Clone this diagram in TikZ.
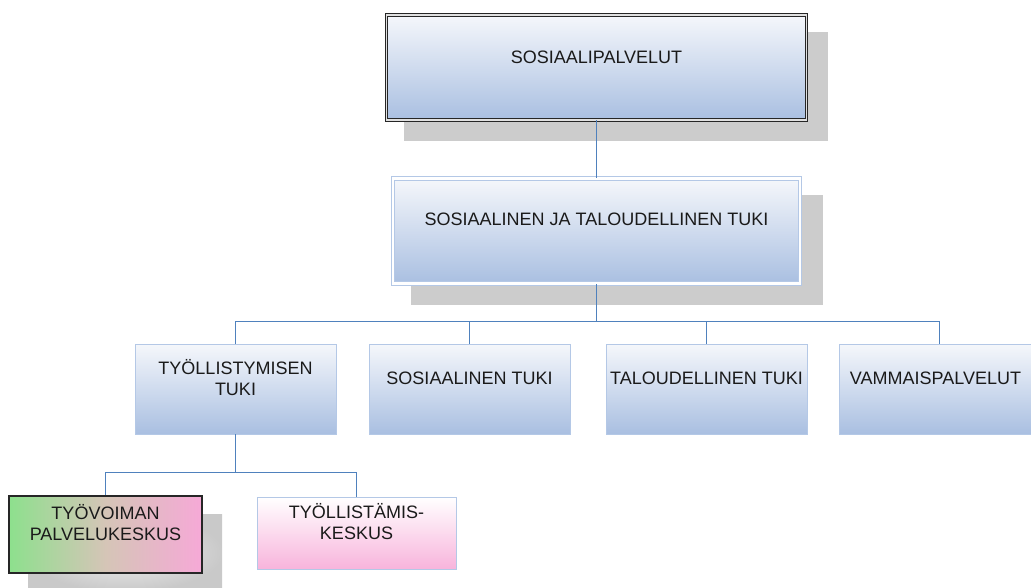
\documentclass[tikz,border=0pt]{standalone}
\usepackage{fontspec}
\setmainfont{Liberation Sans}
\definecolor{linkblue}{HTML}{4F81BD}
\definecolor{boxline}{HTML}{B4C8E6}
\definecolor{boxtop}{HTML}{F5F7FB}
\definecolor{boxbot}{HTML}{A9BFE1}
\definecolor{shadowgray}{HTML}{CCCCCC}
\definecolor{textgray}{HTML}{1A1A1A}
\definecolor{green1}{HTML}{8DE08D}
\definecolor{tan1}{HTML}{D5C5B7}
\definecolor{pink1}{HTML}{F6A9D7}
\definecolor{pink2}{HTML}{F8B4DC}

\begin{document}
\begin{tikzpicture}[x=1pt, y=-1pt,
    box/.style = {draw=boxline, line width=0.8pt, top color=boxtop, bottom color=boxbot,
                  minimum width=201pt, minimum height=90pt, inner sep=0pt},
    shadow/.style = {fill=shadowgray, draw=none, inner sep=0pt},
    txt/.style = {align=center, inner sep=0pt, text=textgray, font=\fontsize{18}{21}\selectfont},
    link/.style = {draw=linkblue, line width=0.9pt}]

    \fill[white] (0,0) rectangle (1031,587);
    \useasboundingbox (0,0) rectangle (1031,587);

    % Varjot
    \node[shadow, minimum width=424pt, minimum height=109pt] (s1) at (615.5,86.5) {};

    \node[shadow, minimum width=412pt, minimum height=110pt] (s2) at (616.5,250) {};

    \node[shadow, inner color=gray!12, outer color=gray!42, minimum width=194pt, minimum height=77pt] (s7) at (125,552.5) {};

    % Laatikot
    \node[box, draw=black!85, line width=0.9pt, double=white!88!black, double distance=1.8pt,
          minimum width=420pt, minimum height=105pt] (1) at (596.5,67.5) {};

    \node[box, line width=1pt, double=white, double distance=2.5pt,
          minimum width=407pt, minimum height=105pt] (2) at (596.5,231) {};

    \node[box] (3) at (235.5,389) {};

    \node[box] (4) at (469.5,389) {};

    \node[box] (5) at (706.5,389) {};

    \node[box] (6) at (939.5,389) {};

    \node[box, draw=black!85, line width=1.2pt, left color=green1, right color=pink1, middle color=tan1,
          minimum width=193pt, minimum height=77pt] (7) at (105.5,534.5) {};

    \node[box, top color=white, bottom color=pink2,
          minimum width=199pt, minimum height=72pt] (8) at (356.5,533) {};

    % Tekstit
    \node[txt] (t1) at ([yshift=10.5pt]1.center) {SOSIAALIPALVELUT};
    \node[txt] (t2) at ([yshift=11.5pt]2.center) {SOSIAALINEN JA TALOUDELLINEN TUKI};
    \node[txt] (t3) at ([yshift=11pt]3.center) {TYÖLLISTYMISEN\\TUKI};
    \node[txt] (t4) at ([yshift=11pt]4.center) {SOSIAALINEN TUKI};
    \node[txt] (t5) at ([yshift=11pt]5.center) {TALOUDELLINEN TUKI};
    \node[txt] (t6) at ([yshift=11pt,xshift=-4pt]6.center) {VAMMAISPALVELUT};
    \node[txt] (t7) at ([yshift=12pt]7.center) {TYÖVOIMAN\\PALVELUKESKUS};
    \node[txt] (t8) at ([yshift=11.5pt]8.center) {TYÖLLISTÄMIS-\\KESKUS};

    % Viivat
    \coordinate (b2) at (596.5,321);
    \coordinate (b3) at (235.5,472);

    \draw[link] (1.south) -- (2.north);
    \draw[link] (2.south) -- (b2);
    \draw[link] (b2) -| (3.north);
    \draw[link] (b2) -| (4.north);
    \draw[link] (b2) -| (5.north);
    \draw[link] (b2) -| (6.north);
    \draw[link] (3.south) -- (b3);
    \draw[link] (b3) -| (7.north);
    \draw[link] (b3) -| (8.north);
\end{tikzpicture}
\end{document}
